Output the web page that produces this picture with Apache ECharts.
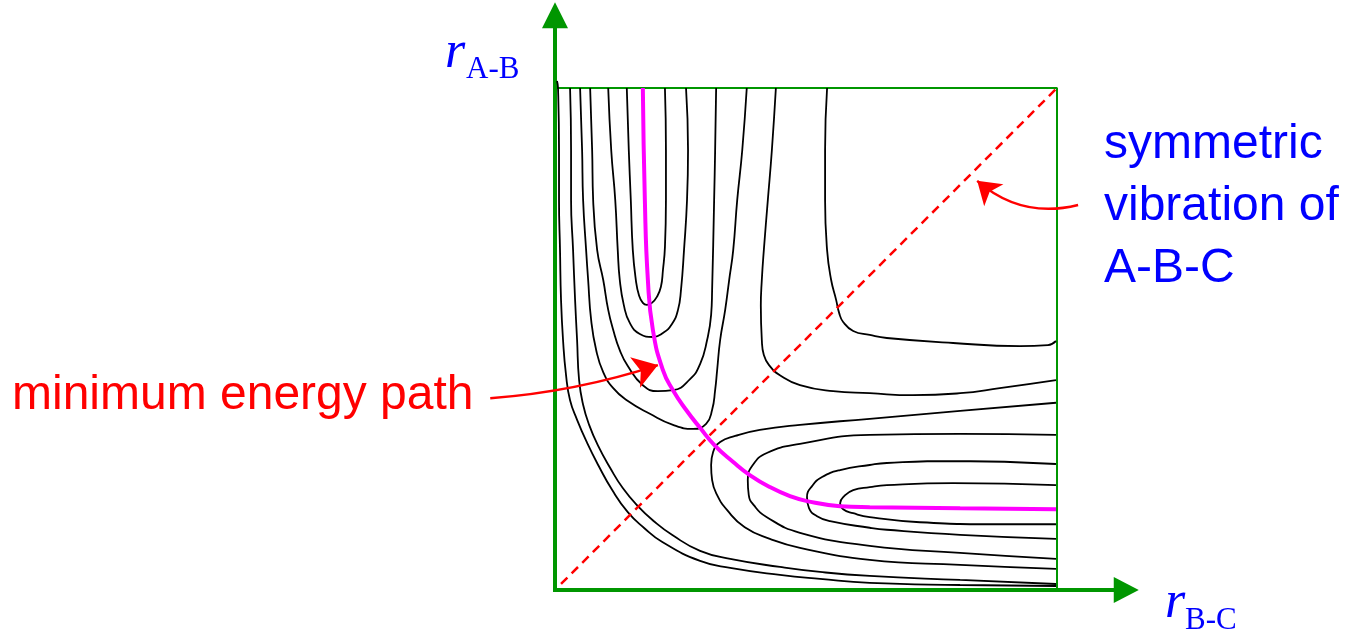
<!DOCTYPE html>
<html>
<head>
<meta charset="utf-8">
<script src="https://cdn.jsdelivr.net/npm/echarts@6.0.0/dist/echarts.min.js"></script>
<style>
  html, body { margin: 0; padding: 0; background: #ffffff; }
  #chart { width: 1347px; height: 635px; }
</style>
</head>
<body>
<div id="chart"></div>
<script>
// Potential energy surface for A + B-C -> A-B + C.
// Coordinates are [r(B-C), r(A-B)] in arbitrary units, surface spans 0..10 on both.

// U-shaped contours of the A-B (entrance) valley, innermost first
const contourAB1 = [[1.43,10],[1.47,8.76],[1.51,7.77],[1.55,6.77],[1.61,6.18],[1.67,5.88],[1.75,5.72],[1.83,5.68],[1.93,5.72],[2.03,5.84],[2.11,6.04],[2.15,6.37],[2.19,6.83],[2.21,7.77],[2.21,8.76],[2.19,10]];
const contourAB2 = [[1.06,10],[1.12,8.76],[1.2,7.77],[1.25,6.77],[1.29,6.18],[1.37,5.68],[1.49,5.32],[1.69,5.1],[1.95,5.04],[2.15,5.12],[2.33,5.3],[2.45,5.58],[2.51,5.98],[2.57,6.77],[2.63,7.77],[2.65,8.76],[2.61,10]];
const contourAB3 = [[0.7,10],[0.74,8.76],[0.76,7.77],[0.84,6.77],[0.96,6.18],[1.06,5.58],[1.16,5.18],[1.29,4.78],[1.45,4.46],[1.75,4.08],[2.05,3.96],[2.35,3.98],[2.69,4.2],[2.89,4.5],[3.03,4.98],[3.11,5.48],[3.13,5.98],[3.17,7.77],[3.19,8.76],[3.21,10]];
const contourAB4 = [[0.5,10],[0.54,8.76],[0.56,7.77],[0.62,6.77],[0.66,6.18],[0.72,5.38],[0.82,4.78],[0.96,4.34],[1.16,4.02],[1.43,3.78],[1.89,3.51],[2.35,3.29],[2.75,3.21],[3.01,3.31],[3.13,3.59],[3.19,3.98],[3.23,4.38],[3.29,4.98],[3.39,5.58],[3.47,6.18],[3.55,6.77],[3.63,7.77],[3.73,8.76],[3.82,10]];

// U-shaped contours of the B-C (exit) valley, innermost first
const contourBC1 = [[9.98,2.09],[7.93,2.13],[6.61,2.09],[6.27,2.05],[5.94,1.99],[5.76,1.87],[5.68,1.73],[5.74,1.61],[5.94,1.53],[6.27,1.45],[7.27,1.35],[8.86,1.31],[9.98,1.31]];
const contourBC2 = [[9.98,2.51],[7.93,2.57],[6.61,2.53],[6.27,2.49],[5.68,2.39],[5.32,2.25],[5.12,2.07],[5.02,1.85],[5.06,1.63],[5.22,1.47],[5.48,1.37],[6.27,1.24],[6.61,1.2],[8.07,1.1],[9.98,1.02]];
const contourBC3 = [[9.98,3.09],[8.07,3.11],[6.27,3.09],[4.88,2.91],[4.22,2.73],[3.94,2.49],[3.84,2.19],[3.86,1.89],[3.96,1.69],[4.22,1.45],[4.88,1.14],[6.27,0.88],[8.07,0.74],[9.98,0.62]];
const contourBC4 = [[9.98,3.73],[8.07,3.57],[6.27,3.41],[4.88,3.29],[4.08,3.19],[3.59,3.07],[3.29,2.95],[3.15,2.75],[3.11,2.49],[3.13,2.19],[3.23,1.89],[3.43,1.59],[3.78,1.25],[4.28,1.02],[4.88,0.84],[6.27,0.6],[8.07,0.5],[9.98,0.42]];

// Contours that wrap around the corner (short r on both bonds)
const contourCorner1 = [[0.3,10],[0.32,8.76],[0.32,7.77],[0.36,6.77],[0.4,5.78],[0.44,4.98],[0.48,4.18],[0.56,3.69],[0.68,3.29],[0.86,2.87],[1.1,2.43],[1.35,2.03],[1.65,1.67],[1.97,1.37],[2.33,1.1],[2.89,0.78],[3.49,0.62],[4.48,0.46],[5.28,0.36],[6.27,0.28],[8.07,0.2],[9.98,0.12]];
const contourCorner2 = [[0.04,10.14],[0.06,10],[0.08,8.76],[0.08,7.77],[0.1,6.77],[0.12,5.78],[0.16,4.98],[0.22,4.28],[0.3,3.78],[0.44,3.39],[0.64,2.93],[0.86,2.49],[1.14,1.99],[1.45,1.55],[1.77,1.24],[2.13,0.96],[2.89,0.58],[3.49,0.44],[4.48,0.3],[5.28,0.22],[6.27,0.14],[8.07,0.1],[9.98,0.08]];

// Contours of the high plateau (dissociation region)
const contourPlateau1 = [[4.4,10],[4.32,8.76],[4.24,7.77],[4.16,6.77],[4.12,6.18],[4.1,5.66],[4.12,4.98],[4.16,4.68],[4.28,4.46],[4.48,4.28],[4.88,4.08],[5.54,3.96],[6.27,3.92],[7.13,3.88],[8.07,3.92],[8.86,4.02],[9.98,4.18]];
const contourPlateau2 = [[5.42,10],[5.38,8.76],[5.38,7.77],[5.42,6.77],[5.5,6.18],[5.6,5.78],[5.66,5.52],[5.74,5.34],[5.94,5.16],[6.27,5.08],[6.61,5.02],[7.93,4.92],[9.26,4.86],[9.82,4.88],[9.98,4.96]];

const contourLines = [
  contourAB1, contourAB2, contourAB3, contourAB4,
  contourBC1, contourBC2, contourBC3, contourBC4,
  contourCorner1, contourCorner2, contourPlateau1, contourPlateau2
];

// Minimum energy path from the A-B valley floor to the B-C valley floor
const minimumEnergyPath = [[1.75,10],[1.79,7.77],[1.85,6.18],[1.95,5.18],[2.15,4.38],[2.35,3.98],[2.61,3.59],[2.89,3.23],[3.19,2.87],[3.55,2.55],[3.88,2.29],[4.28,2.05],[4.68,1.87],[5.02,1.77],[5.68,1.67],[6.27,1.65],[8.07,1.63],[9.98,1.61]];

// Symmetric stretch line r(A-B) = r(B-C)
const symmetricLine = [[0.12,0.12],[10,10]];

// Outline of the plotted surface
const surfaceBox = [[0,0],[0,10],[10,10],[10,0]];

// Annotation pointers: [tail, tip]
const mepPointer = [[-1.29,3.82],[2.05,4.48]];
const symPointer = [[10.42,7.67],[8.41,8.15]];

const GREEN = '#009600';
const BLUE = '#0000ff';
const RED = '#ff0000';
const UNIT = 50.2;          // pixels per r unit
const X_MAX = 11.38, Y_MAX = 11.45;
const ORIGIN_X = 555, ORIGIN_Y = 590;

const chart = echarts.init(document.getElementById('chart'), null, { renderer: 'canvas' });

const hiddenAxisParts = {
  axisTick: { show: false },
  axisLabel: { show: false },
  splitLine: { show: false }
};

const series = [];

series.push({
  type: 'line', data: surfaceBox, symbol: 'none', silent: true, z: 1,
  lineStyle: { color: GREEN, width: 2 }
});

contourLines.forEach(function (pts) {
  series.push({
    type: 'line', data: pts, symbol: 'none', smooth: 0.5, silent: true, z: 2,
    lineStyle: { color: '#000000', width: 1.8 }
  });
});

series.push({
  type: 'line', data: symmetricLine, symbol: 'none', silent: true, z: 3,
  lineStyle: { color: RED, width: 2.5, type: [9, 6] }
});

series.push({
  type: 'line', data: minimumEnergyPath, symbol: 'none', smooth: 0.5, silent: true, z: 4,
  lineStyle: { color: '#ff00ff', width: 4 }
});

series.push({
  type: 'lines', coordinateSystem: 'cartesian2d', clip: false, silent: true, z: 5,
  symbol: ['none', 'arrow'], symbolSize: [22, 24],
  lineStyle: { color: RED, width: 2.5, opacity: 1, curveness: -0.06 },
  data: [{ coords: mepPointer }]
});

series.push({
  type: 'lines', coordinateSystem: 'cartesian2d', clip: false, silent: true, z: 5,
  symbol: ['none', 'arrow'], symbolSize: [20, 22],
  lineStyle: { color: RED, width: 2.5, opacity: 1, curveness: 0.26 },
  data: [{ coords: symPointer }]
});

chart.setOption({
  animation: false,
  backgroundColor: '#ffffff',
  grid: {
    left: ORIGIN_X,
    top: ORIGIN_Y - Y_MAX * UNIT,
    width: X_MAX * UNIT,
    height: Y_MAX * UNIT,
    containLabel: false
  },
  xAxis: Object.assign({
    type: 'value', min: 0, max: X_MAX,
    axisLine: {
      show: true, onZero: false,
      symbol: ['none', 'triangle'], symbolSize: [26, 25],
      lineStyle: { color: GREEN, width: 4, cap: 'square' }
    }
  }, hiddenAxisParts),
  yAxis: Object.assign({
    type: 'value', min: 0, max: Y_MAX,
    axisLine: {
      show: true, onZero: false,
      symbol: ['none', 'triangle'], symbolSize: [26, 26],
      lineStyle: { color: GREEN, width: 4, cap: 'square' }
    }
  }, hiddenAxisParts),
  series: series,
  graphic: [
    { type: 'text', x: 445, y: 53, style: { text: 'r', fill: BLUE, font: 'italic 52px "Liberation Serif"', verticalAlign: 'middle' } },
    { type: 'text', x: 466, y: 69.5, style: { text: 'A-B', fill: BLUE, font: '31px "Liberation Serif"', verticalAlign: 'middle' } },
    { type: 'text', x: 1165, y: 603, style: { text: 'r', fill: BLUE, font: 'italic 52px "Liberation Serif"', verticalAlign: 'middle' } },
    { type: 'text', x: 1185, y: 621, style: { text: 'B-C', fill: BLUE, font: '31px "Liberation Serif"', verticalAlign: 'middle' } },
    { type: 'text', x: 1104, y: 145, style: { text: 'symmetric', fill: BLUE, font: '48px "Liberation Sans"', verticalAlign: 'middle' } },
    { type: 'text', x: 1104, y: 207, style: { text: 'vibration of', fill: BLUE, font: '48px "Liberation Sans"', verticalAlign: 'middle' } },
    { type: 'text', x: 1104, y: 269, style: { text: 'A-B-C', fill: BLUE, font: '48px "Liberation Sans"', verticalAlign: 'middle' } },
    { type: 'text', x: 12, y: 395.5, style: { text: 'minimum energy path', fill: RED, font: '48px "Liberation Sans"', verticalAlign: 'middle' } }
  ]
});
</script>
</body>
</html>
